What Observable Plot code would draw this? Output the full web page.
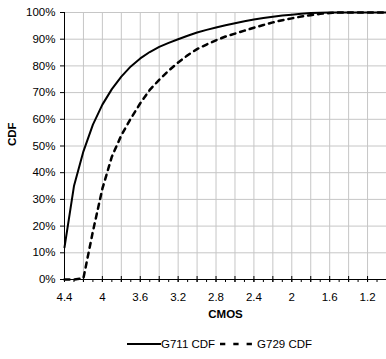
<!DOCTYPE html>
<html><head><meta charset="utf-8">
<script src="https://cdn.jsdelivr.net/npm/d3@7"></script>
<script src="https://cdn.jsdelivr.net/npm/@observablehq/plot@0.6"></script>
<style>
body{margin:0;background:#fff;font-family:"Liberation Sans",Arial,sans-serif;}
#legend{position:relative;width:386px;height:34px;font-size:11.5px;color:#000;}
#legend .row{position:absolute;left:127px;top:12px;display:flex;align-items:center;height:14px;white-space:nowrap;}
#legend svg{display:block;}
</style>
</head><body>
<div id="chart"></div>
<div id="legend"></div>
<script>
// CMOS values (x), descending
const cmos = [4.4,4.3,4.2,4.1,4.0,3.9,3.8,3.7,3.6,3.5,3.4,3.3,3.2,3.1,3.0,2.9,2.8,2.7,2.6,2.5,2.4,2.3,2.2,2.1,2.0,1.9,1.8,1.7,1.6,1.5,1.4,1.3,1.2,1.1,1.0];
// CDF values in percent
const g711 = [12,35,48,58,65.5,71.3,76,79.8,82.8,85.2,87.1,88.6,90,91.3,92.5,93.5,94.4,95.2,96,96.7,97.4,97.9,98.4,98.9,99.2,99.5,99.8,99.9,100,100,100,100,100,100,100];
const g729 = [0,0,0.5,18,34,46,54,60.3,66,71,74.8,78.2,81.3,84,86.3,88,89.6,91,92.1,93.2,94.3,95.3,96.3,97.1,97.8,98.5,99,99.5,99.8,100,100,100,100,100,100];
const seriesNames = ["G711 CDF", "G729 CDF"];
const xLabelTicks = [4.4,4.0,3.6,3.2,2.8,2.4,2.0,1.6,1.2];
const xGridTicks = [4.4,4.2,4.0,3.8,3.6,3.4,3.2,3.0,2.8,2.6,2.4,2.2,2.0,1.8,1.6,1.4,1.2,1.0];
const xMinorTicks = [4.3,4.1,3.9,3.7,3.5,3.3,3.1,2.9,2.7,2.5,2.3,2.1,1.9,1.7,1.5,1.3,1.1];
const yTicks = [0,0.1,0.2,0.3,0.4,0.5,0.6,0.7,0.8,0.9,1.0];

const data711 = cmos.map((c, i) => ({x: c, y: g711[i] / 100}));
const data729 = cmos.map((c, i) => ({x: c, y: g729[i] / 100}));

const chart = Plot.plot({
  width: 386,
  height: 325,
  marginLeft: 64,
  marginRight: 0,
  marginTop: 12,
  marginBottom: 46,
  style: {fontFamily: "Liberation Sans, Arial, sans-serif", fontSize: "11.5px", color: "#000", background: "#fff"},
  x: {domain: [4.4, 1.0], label: null},
  y: {domain: [0, 1], label: null},
  marks: [
    Plot.gridX(xGridTicks, {stroke: "#c6c6c6", strokeOpacity: 1, strokeWidth: 1}),
    Plot.gridY(yTicks, {stroke: "#c6c6c6", strokeOpacity: 1, strokeWidth: 1}),
    Plot.axisY({ticks: yTicks, tickFormat: d3.format(".0%"), tickSize: 4, tickPadding: 5, label: null}),
    Plot.axisX({ticks: xMinorTicks.concat(xGridTicks), tickSize: 3, tickFormat: () => "", label: null}),
    Plot.ruleX(xGridTicks, {x: d => d, y1: () => 0, y2: () => 0, insetTop: 3, insetBottom: 3, stroke: "#000"}),
    Plot.axisX({ticks: xLabelTicks, tickSize: 0, tickPadding: 13, tickFormat: d => String(d), label: null}),
    Plot.ruleX([4.4], {stroke: "#000"}),
    Plot.ruleY([0], {stroke: "#000"}),
    Plot.line(data729, {x: "x", y: "y", stroke: "#000", strokeWidth: 2.5, strokeDasharray: "5,5"}),
    Plot.line(data711, {x: "x", y: "y", stroke: "#000", strokeWidth: 2}),
    Plot.text(["CDF"], {frameAnchor: "left", dx: -52, rotate: -90, fontWeight: "bold", fontSize: 11.5}),
    Plot.text(["CMOS"], {frameAnchor: "bottom", dy: 38, fontWeight: "bold", fontSize: 11.5})
  ]
});
document.getElementById("chart").appendChild(chart);

const legend = document.getElementById("legend");
legend.innerHTML = `<div class="row">
  <svg width="34" height="10"><line x1="0" x2="34" y1="5" y2="5" stroke="#000" stroke-width="2"/></svg>
  <span style="margin-left:0px">${seriesNames[0]}</span>
  <svg width="34" height="10" style="margin-left:5px"><line x1="0" x2="34" y1="5" y2="5" stroke="#000" stroke-width="2.5" stroke-dasharray="5.3,8"/></svg>
  <span style="margin-left:3px">${seriesNames[1]}</span>
</div>`;
</script>
</body></html>
